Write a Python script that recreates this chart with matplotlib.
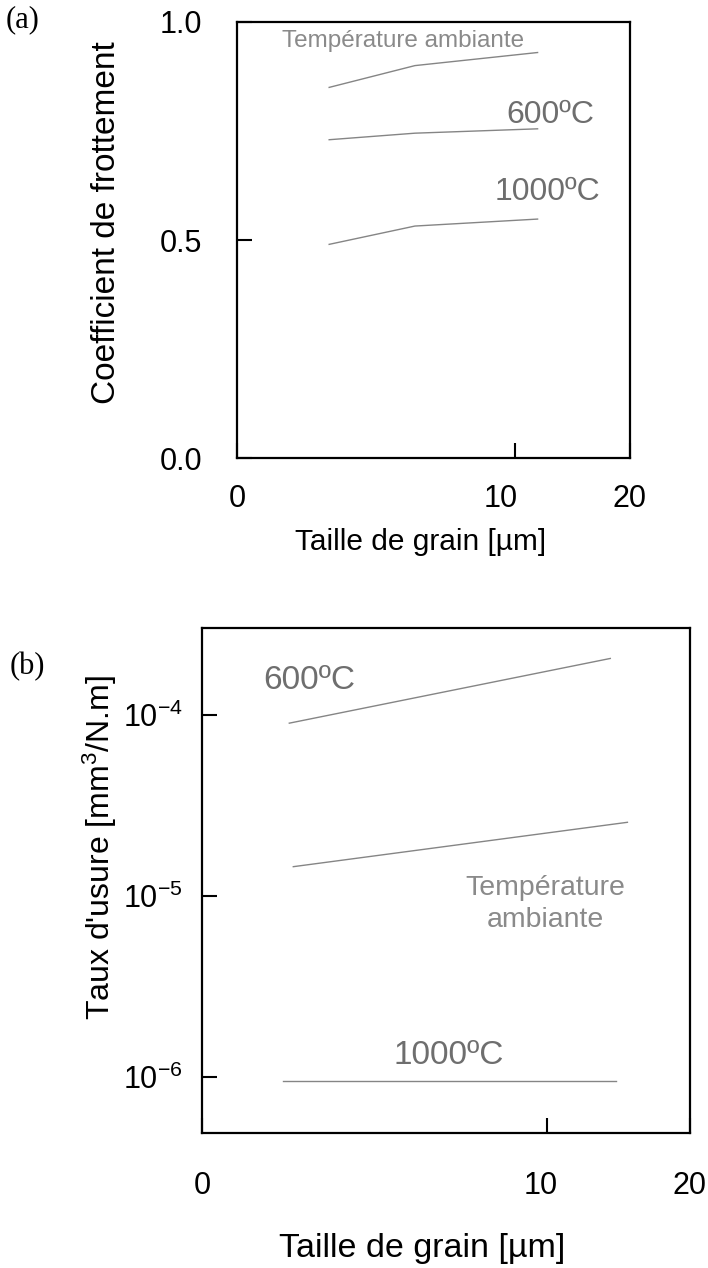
import numpy as np
import matplotlib
matplotlib.use("Agg")
import matplotlib.pyplot as plt
from matplotlib.ticker import NullLocator, FixedLocator
import matplotlib.transforms as mtransforms

plt.rcParams['font.family'] = ['Liberation Sans', 'DejaVu Sans']
plt.rcParams['mathtext.fontset'] = 'custom'
plt.rcParams['mathtext.rm'] = 'Liberation Sans'
plt.rcParams['mathtext.it'] = 'Liberation Sans:italic'
plt.rcParams['axes.unicode_minus'] = False

# (a) friction coefficient vs grain size
grain_a = [1.1, 4.1, 11.7]
mu_ambient = [0.85, 0.90, 0.93]
mu_600 = [0.73, 0.745, 0.755]
mu_1000 = [0.49, 0.532, 0.548]

# (b) wear rate vs grain size
grain_600_b = [0.64, 14.0]
wear_600 = [9.0e-5, 2.05e-4]
grain_ambient_b = [0.70, 15.2]
wear_ambient = [1.45e-5, 2.55e-5]
grain_1000_b = [0.55, 14.4]
wear_1000 = [9.5e-7, 9.5e-7]

x_ticks = [0, 10, 20]
y_ticks_a = [0.0, 0.5, 1.0]
y_tick_labels_a = ['0.0', '0.5', '1.0']
y_ticks_b = [1e-6, 1e-5, 1e-4]

LINE_COLOR = '#858585'
TEXT_COLOR = '#6e6e6e'
TEXT_LIGHT = '#8a8a8a'

W, H = 708, 1268
fig = plt.figure(figsize=(W / 100, H / 100), dpi=100)


def px_axes(left, top, right, bottom):
    return fig.add_axes([left / W, 1 - bottom / H, (right - left) / W, (bottom - top) / H])


def style_axes(ax, ypad, xpad):
    for sp in ax.spines.values():
        sp.set_linewidth(1.6)
    ax.tick_params(direction='in', length=11, width=1.5, labelsize=22,
                   colors='black')
    ax.tick_params(axis='y', pad=ypad)
    ax.tick_params(axis='x', pad=xpad)
    ax.set_xscale('function', functions=(np.sqrt, np.square))
    ax.set_xlim(0, 20)
    ax.xaxis.set_major_locator(FixedLocator(x_ticks))
    ax.xaxis.set_minor_locator(NullLocator())
    ax.set_xticklabels([str(t) for t in x_ticks])


def nudge_label(ax, idx, dx_in):
    lbl = ax.get_xticklabels()[idx]
    lbl.set_transform(lbl.get_transform() +
                      mtransforms.ScaledTranslation(dx_in, 0, fig.dpi_scale_trans))


# ---- panel (a)
ax1 = px_axes(237, 22, 630, 458)
style_axes(ax1, ypad=25, xpad=19)
ax1.set_ylim(0, 1.0)
ax1.set_yticks(y_ticks_a)
ax1.set_yticklabels(y_tick_labels_a)

ax1.plot(grain_a, mu_ambient, color=LINE_COLOR, lw=1.0)
ax1.plot(grain_a, mu_600, color=LINE_COLOR, lw=1.0)
ax1.plot(grain_a, mu_1000, color=LINE_COLOR, lw=1.0)

ax1.text(3.57, 0.957, 'Température ambiante', fontsize=17.5, color=TEXT_LIGHT,
         ha='center', va='center')
ax1.text(12.7, 0.787, '600ºC', fontsize=23, color=TEXT_COLOR, ha='center', va='center')
ax1.text(12.5, 0.61, '1000ºC', fontsize=23, color=TEXT_COLOR, ha='center', va='center')

ax1.set_ylabel('Coefficient de frottement', fontsize=24, va='center')
ax1.yaxis.set_label_coords(-0.331, 0.539)
ax1.set_xlabel('Taille de grain [µm]', fontsize=21.5, va='center')
ax1.xaxis.set_label_coords(0.468, -0.193)
nudge_label(ax1, 1, -0.14)

# ---- panel (b)
ax2 = px_axes(202, 628, 690, 1133)
style_axes(ax2, ypad=14, xpad=27)
ax2.set_yscale('log')
ax2.set_ylim(10 ** -6.31, 10 ** -3.52)
ax2.yaxis.set_major_locator(FixedLocator(y_ticks_b))
ax2.yaxis.set_minor_locator(NullLocator())

ax2.plot(grain_600_b, wear_600, color=LINE_COLOR, lw=1.0)
ax2.plot(grain_ambient_b, wear_ambient, color=LINE_COLOR, lw=1.0)
ax2.plot(grain_1000_b, wear_1000, color=LINE_COLOR, lw=1.0)

ax2.text(0.96, 1.54e-4, '600ºC', fontsize=24, color=TEXT_COLOR, ha='center', va='center')
ax2.text(9.88, 9.0e-6, 'Température\nambiante', fontsize=20.5, color=TEXT_LIGHT,
         ha='center', va='center', linespacing=1.3)
ax2.text(5.12, 1.32e-6, '1000ºC', fontsize=24, color=TEXT_COLOR, ha='center', va='center')

ax2.set_ylabel("Taux d'usure [mm$^3$/N.m]", fontsize=23, va='center')
ax2.yaxis.set_label_coords(-0.209, 0.565)
ax2.set_xlabel('Taille de grain [µm]', fontsize=24.5, va='center')
ax2.xaxis.set_label_coords(0.451, -0.228)
nudge_label(ax2, 1, -0.06)

fig.text(6 / W, 1 - 20 / H, '(a)', fontsize=22, family='Liberation Serif', va='center')
fig.text(10 / W, 1 - 667 / H, '(b)', fontsize=22, family='Liberation Serif', va='center')

fig.savefig('out.png', dpi=100)
